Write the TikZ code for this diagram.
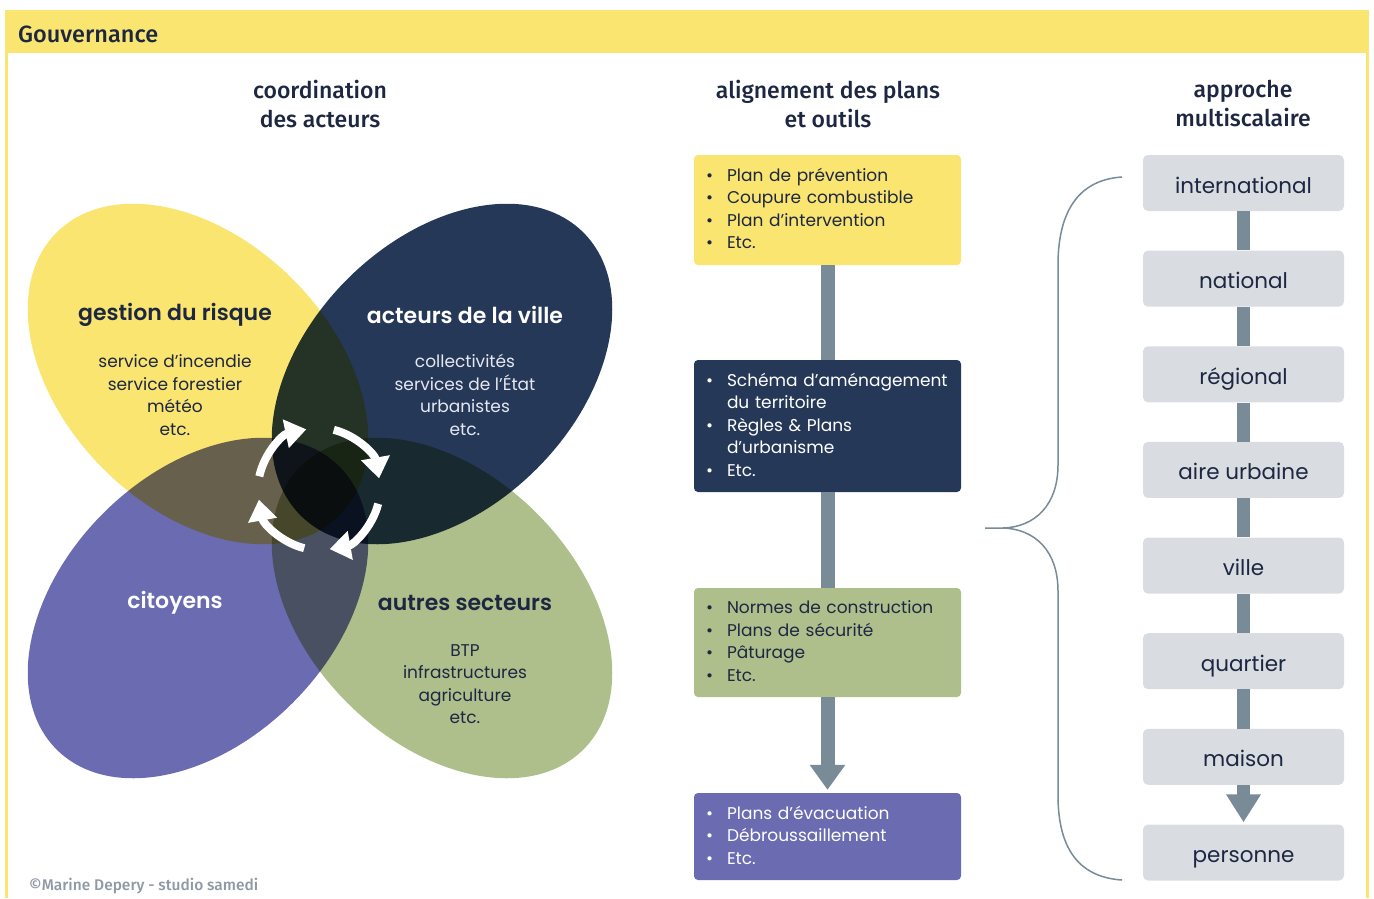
\documentclass[tikz,border=0pt]{standalone}
\usepackage{fontspec}
\setmainfont{Poppins}
\newfontfamily\hfont{Fira Sans Medium}
\newfontfamily\popsemi{Poppins SemiBold}
\usetikzlibrary{arrows.meta,calc}
\definecolor{yel}{HTML}{F9E570}
\definecolor{navy}{HTML}{263858}
\definecolor{purp}{HTML}{6A6BB1}
\definecolor{gre}{HTML}{AEBF8C}
\definecolor{ink}{HTML}{1D2742}
\definecolor{conn}{HTML}{7A8B98}
\definecolor{lgray}{HTML}{D9DDE1}
\definecolor{credit}{HTML}{8E99A5}
\definecolor{lighttxt}{HTML}{E6E8F0}
\newcommand{\bitem}[1]{\par\hangindent=22pt\hangafter=1\noindent\makebox[22pt][l]{\hspace{1pt}\textbullet}#1}
\tikzset{
  htitle/.style={font=\hfont\fontsize{23}{29}\selectfont, text=ink, align=center},
  etitle/.style={font=\popsemi\fontsize{22}{26}\selectfont},
  esub/.style={font=\fontsize{17}{22.5}\selectfont, align=center},
  planbox/.style={rounded corners=4pt, minimum width=267pt, text width=245pt, inner xsep=11pt, inner ysep=0pt, align=left, font=\fontsize{17}{22.5}\selectfont, execute at end node={\par\kern12pt}},
  scalebox/.style={fill=lgray, rounded corners=5pt, minimum width=201pt, minimum height=56pt, inner sep=0pt, text height=20pt, text depth=0pt, font=\fontsize{21.5}{26}\selectfont, text=ink},
  plink/.style={draw=conn, line width=14pt},
  slink/.style={draw=conn, line width=13pt},
  circarrow/.style={draw=white, line width=8pt, -{Triangle[length=21pt,width=28pt]}},
  bracepath/.style={draw=conn, line width=1.5pt},
  petal/.style={x radius=200, y radius=134}
}
\begin{document}
\begin{tikzpicture}[x=1pt,y=-1pt]
\useasboundingbox (0,0) rectangle (1374,898);
\fill[white] (0,0) rectangle (1374,898);
% frame
\fill[yel] (5,10) rectangle (1369,53);
\fill[yel] (5,53) rectangle (8,898);
\fill[yel] (1366,53) rectangle (1369,898);
\node[anchor=west, font=\hfont\fontsize{23.5}{28}\selectfont, text=ink, inner sep=0pt] (gov) at (18,34) {Gouvernance};
% column titles
\node[htitle] (t1) at (320,104) {coordination\\des acteurs};
\node[htitle] (t2) at (828,104) {alignement des plans\\et outils};
\node[htitle] (t3) at (1243,104) {approche\\multiscalaire};
% ellipses
\begin{scope}[blend group=multiply]
\fill[yel, rotate around={-45:(198,374)}] (198,374) ellipse [petal];
\fill[navy, rotate around={45:(442,374)}] (442,374) ellipse [petal];
\fill[purp, rotate around={45:(198,608)}] (198,608) ellipse [petal];
\fill[gre, rotate around={-45:(442,608)}] (442,608) ellipse [petal];
\end{scope}
% ellipse texts
\node[etitle, text=ink] (e1) at (175,315) {gestion du risque};
\node[esub, text=ink] (e1s) at (175,395) {service d’incendie\\service forestier\\météo\\etc.};
\node[etitle, text=white] (e2) at (465,315) {acteurs de la ville};
\node[esub, text=lighttxt] (e2s) at (465,395) {collectivités\\services de l’État\\urbanistes\\etc.};
\node[etitle, text=white] (e3) at (175,603) {citoyens};
\node[etitle, text=ink] (e4) at (465,603) {autres secteurs};
\node[esub, text=ink] (e4s) at (465,684) {BTP\\infrastructures\\agriculture\\etc.};
% circular arrows
\coordinate (C) at (319,489);
\draw[circarrow] ($(C)+(-168:61)$) arc[start angle=-168, end angle=-102, radius=61];
\draw[circarrow] ($(C)+(-76:61)$) arc[start angle=-76, end angle=-10, radius=61];
\draw[circarrow] ($(C)+(14:61)$) arc[start angle=14, end angle=80, radius=61];
\draw[circarrow] ($(C)+(104:61)$) arc[start angle=104, end angle=170, radius=61];
% plan boxes
\node[planbox, fill=yel, text=ink, minimum height=110pt] (b1) at (827.5,210) {\bitem{Plan de prévention}\bitem{Coupure combustible}\bitem{Plan d’intervention}\bitem{Etc.}};
\node[planbox, fill=navy, text=white, minimum height=132pt] (b2) at (827.5,426) {\bitem{Schéma d’aménagement\newline du territoire}\bitem{Règles \& Plans\newline d’urbanisme}\bitem{Etc.}};
\node[planbox, fill=gre, text=ink, minimum height=109pt] (b3) at (827.5,642.5) {\bitem{Normes de construction}\bitem{Plans de sécurité}\bitem{Pâturage}\bitem{Etc.}};
\node[planbox, fill=purp, text=white, minimum height=87pt] (b4) at (827.5,836.5) {\bitem{Plans d’évacuation}\bitem{Débroussaillement}\bitem{Etc.}};
\draw[plink] (b1.south) -- (b2.north);
\draw[plink] (b2.south) -- (b3.north);
\draw[plink, -{Triangle[length=25pt,width=34pt]}] (b3.south) -- ([yshift=3pt]b4.north);
% scale boxes
\node[scalebox] (s1) at (1243.5,183) {international};
\node[scalebox] (s2) at (1243.5,278.6) {national};
\node[scalebox] (s3) at (1243.5,374.3) {régional};
\node[scalebox] (s4) at (1243.5,469.9) {aire urbaine};
\node[scalebox] (s5) at (1243.5,565.6) {ville};
\node[scalebox] (s6) at (1243.5,661.2) {quartier};
\node[scalebox] (s7) at (1243.5,756.8) {maison};
\node[scalebox] (s8) at (1243.5,852.5) {personne};
\draw[slink] (s1.south) -- (s2.north);
\draw[slink] (s2.south) -- (s3.north);
\draw[slink] (s3.south) -- (s4.north);
\draw[slink] (s4.south) -- (s5.north);
\draw[slink] (s5.south) -- (s6.north);
\draw[slink] (s6.south) -- (s7.north);
\draw[slink, -{Triangle[length=28pt,width=33pt]}] (s7.south) -- ([yshift=2pt]s8.north);
% brace
\coordinate (bt) at (1122,177);
\coordinate (bb) at (1122,880);
\coordinate (bm) at (985,528);
\draw[bracepath] (bt) .. controls (1076,180) and (1058,215) .. (1058,265) -- (1058,465) .. controls (1058,505) and (1035,527) .. (1003,528) -- (bm);
\draw[bracepath] (1003,528) .. controls (1035,529) and (1058,551) .. (1058,591) -- (1058,795) .. controls (1058,845) and (1076,877) .. (bb);
% credit
\node[anchor=west, inner sep=0pt, font=\hfont\fontsize{15.5}{18}\selectfont, text=credit] (cr) at (29,886) {©Marine Depery - studio samedi};
\end{tikzpicture}
\end{document}
